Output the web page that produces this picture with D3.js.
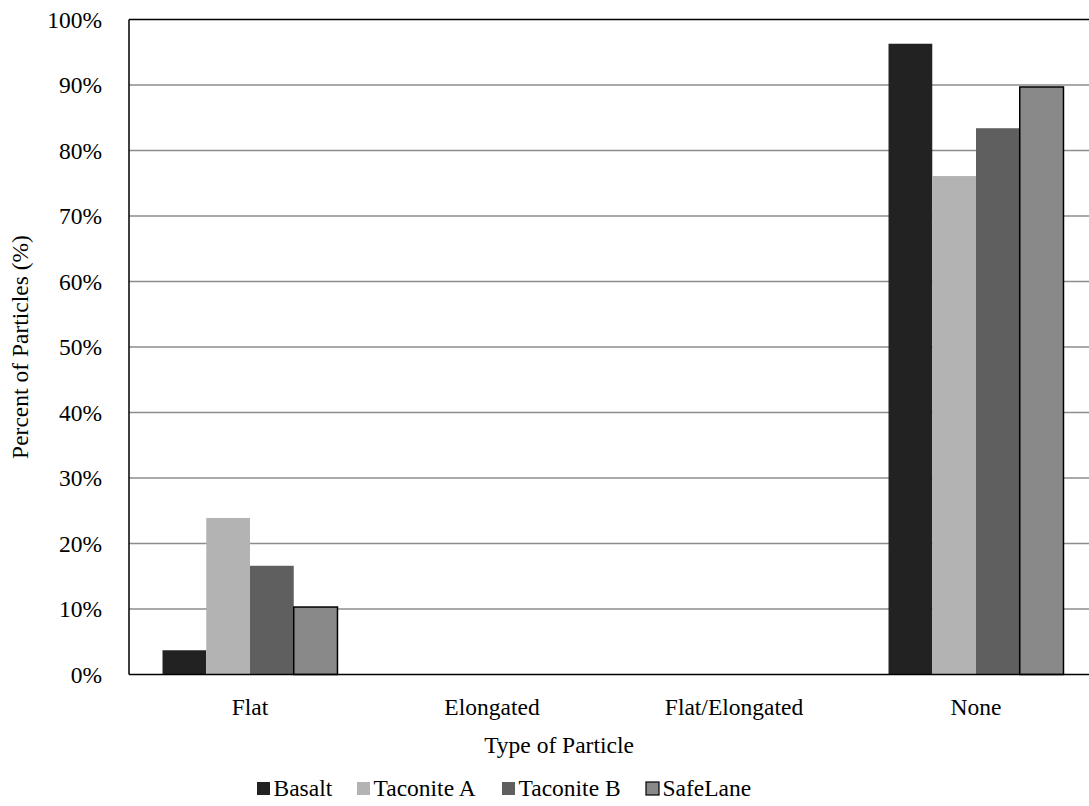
<!DOCTYPE html>
<html><head><meta charset="utf-8">
<script src="https://cdn.jsdelivr.net/npm/d3@7/dist/d3.min.js"></script>
<style>body{margin:0;background:#fff}svg{display:block}text{font-family:"Liberation Serif","Times New Roman",serif;fill:#000}</style>
</head><body><svg id="c" width="1089" height="806"></svg>
<script>
const categories = ["Flat", "Elongated", "Flat/Elongated", "None"];
const seriesNames = ["Basalt", "Taconite A", "Taconite B", "SafeLane"];
const basalt = [3.7, 0, 0, 96.3];
const taconiteA = [23.9, 0, 0, 76.1];
const taconiteB = [16.6, 0, 0, 83.4];
const safeLane = [10.3, 0, 0, 89.7];
const yTicks = [0,10,20,30,40,50,60,70,80,90,100];
const colors = ["#222222", "#b3b3b3", "#5f5f5f", "#898989"];
const seriesVals = [basalt, taconiteA, taconiteB, safeLane];

const FS = "23.5px";
const svg = d3.select("#c");
const L = 129, R = 1097, T = 19.5, B = 674.5;
const x = d3.scaleBand().domain(categories).range([L, R]).paddingInner(0).paddingOuter(0);
const y = d3.scaleLinear().domain([0, 100]).range([B, T]);
const groupFrac = 0.723;
const inner = d3.scaleBand().domain(seriesNames)
  .range([x.bandwidth()*(1-groupFrac)/2, x.bandwidth()*(1+groupFrac)/2]).padding(0);

// gridlines
svg.append("g").selectAll("line").data(yTicks.filter(d => d > 0 && d < 100)).join("line")
  .attr("x1", L).attr("x2", R).attr("y1", d => y(d)).attr("y2", d => y(d))
  .attr("stroke", "#8c8c8c").attr("stroke-width", 1.5);

// bars
seriesNames.forEach((s, si) => {
  svg.append("g").selectAll("rect").data(categories.map((c, i) => ({c, v: seriesVals[si][i]}))).join("rect")
    .attr("x", d => x(d.c) + inner(s))
    .attr("width", inner.bandwidth())
    .attr("y", d => y(d.v))
    .attr("height", d => B - y(d.v))
    .attr("fill", colors[si])
    .attr("stroke", si === 3 ? "#000" : "none")
    .attr("stroke-width", si === 3 ? 1.5 : 0);
});

// frame
svg.append("line").attr("x1", L).attr("x2", R).attr("y1", T).attr("y2", T).attr("stroke", "#000").attr("stroke-width", 1.5);
svg.append("line").attr("x1", L).attr("x2", L).attr("y1", T).attr("y2", B).attr("stroke", "#000").attr("stroke-width", 1.5);
svg.append("line").attr("x1", L).attr("x2", R).attr("y1", B).attr("y2", B).attr("stroke", "#000").attr("stroke-width", 1.5);

// y axis labels
const yAxis = d3.axisLeft(y).tickValues(yTicks).tickFormat(d => d + "%").tickSize(0).tickPadding(27);
const ya = svg.append("g").attr("transform", `translate(${L},0)`).call(yAxis);
ya.select(".domain").remove();
ya.selectAll("text").style("font-size", FS).style("font-family", '"Liberation Serif", serif').attr("fill", "#000");

// x axis labels
const xAxis = d3.axisBottom(x).tickSize(0).tickPadding(24);
const xa = svg.append("g").attr("transform", `translate(0,${B})`).call(xAxis);
xa.select(".domain").remove();
xa.selectAll("text").style("font-size", FS).style("font-family", '"Liberation Serif", serif').attr("fill", "#000");

// titles
svg.append("text").attr("x", 559).attr("y", 753).attr("text-anchor", "middle").style("font-size", FS).text("Type of Particle");
svg.append("text").attr("transform", `translate(28,${(T+B)/2}) rotate(-90)`).attr("text-anchor", "middle").style("font-size", FS).text("Percent of Particles (%)");

// legend
const legX = [257, 357, 502, 646];
const leg = svg.append("g");
seriesNames.forEach((s, i) => {
  leg.append("rect").attr("x", legX[i]).attr("y", 782).attr("width", 13).attr("height", 13)
    .attr("fill", colors[i]).attr("stroke", i === 3 ? "#000" : "none").attr("stroke-width", i === 3 ? 1.2 : 0);
  leg.append("text").attr("x", legX[i] + 16.5).attr("y", 796).style("font-size", FS).text(s);
});
</script></body></html>
